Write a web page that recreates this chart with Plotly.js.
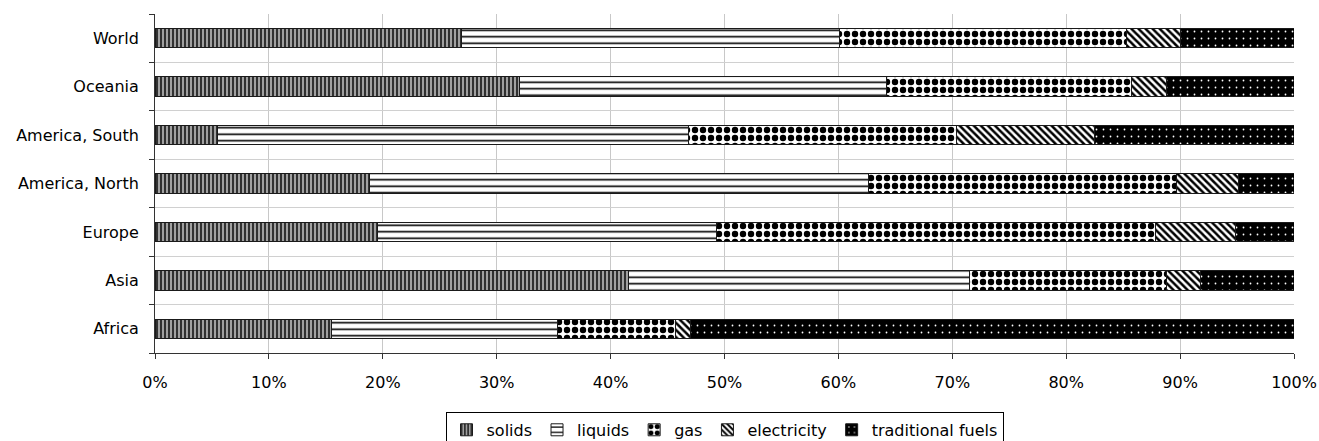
<!DOCTYPE html>
<html>
<head>
<meta charset="utf-8">
<script src="https://cdn.plot.ly/plotly-3.0.1.min.js"></script>
<style>
  html, body { margin: 0; padding: 0; background: #ffffff; }
  #chart { width: 1319px; height: 441px; }
</style>
</head>
<body>
<div id="chart"></div>
<script>
// Categories (bottom to top)
const regions = ["Africa", "Asia", "Europe", "America, North", "America, South", "Oceania", "World"];

// Shares in percent, same order as regions
const solids      = [15.5, 41.6, 19.5, 18.8,  5.5, 32.0, 26.9];
const liquids     = [19.8, 29.9, 29.8, 43.8, 41.3, 32.2, 33.2];
const gas         = [10.4, 17.3, 38.5, 27.1, 23.6, 21.5, 25.2];
const electricity = [ 1.3,  3.0,  7.1,  5.4, 12.1,  3.1,  4.7];
const traditional = [53.0,  8.2,  5.1,  4.9, 17.5, 11.2, 10.0];

const seriesNames = ["solids", "liquids", "gas", "electricity", "traditional fuels"];
const xTicks = [0, 10, 20, 30, 40, 50, 60, 70, 80, 90, 100];

const patterns = [
  {shape: "|", bgcolor: "#a0a0a0", fgcolor: "#000000", size: 4, solidity: 0.35},
  {shape: "-", bgcolor: "#ffffff", fgcolor: "#000000", size: 6.5, solidity: 0.25},
  {shape: ".", bgcolor: "#ffffff", fgcolor: "#000000", size: 8, solidity: 0.5},
  {shape: "\\", bgcolor: "#ffffff", fgcolor: "#000000", size: 5, solidity: 0.5},
  {shape: ".", bgcolor: "#000000", fgcolor: "#ffffff", size: 7, solidity: 0.05}
];

const values = [solids, liquids, gas, electricity, traditional];

const traces = values.map((v, i) => ({
  type: "bar",
  orientation: "h",
  name: seriesNames[i],
  y: regions,
  x: v,
  marker: {
    color: patterns[i].bgcolor,
    line: {color: "#1a1a1a", width: 1},
    pattern: {
      shape: patterns[i].shape,
      bgcolor: patterns[i].bgcolor,
      fgcolor: patterns[i].fgcolor,
      size: patterns[i].size,
      solidity: patterns[i].solidity,
      fillmode: "replace"
    }
  },
  hoverinfo: "name+x"
}));

const layout = {
  width: 1319,
  height: 441,
  margin: {l: 155, r: 25, t: 14, b: 88, autoexpand: false},
  paper_bgcolor: "#ffffff",
  plot_bgcolor: "#ffffff",
  barmode: "stack",
  bargap: 0.6,
  font: {family: "DejaVu Sans, sans-serif", size: 16, color: "#000000"},
  showlegend: true,
  legend: {
    orientation: "h",
    xref: "paper",
    x: 0.5, xanchor: "center",
    yref: "container",
    y: 0.066, yanchor: "top",
    bordercolor: "#000000", borderwidth: 1,
    bgcolor: "#ffffff",
    font: {size: 16},
    itemwidth: 30,
    traceorder: "normal",
    tracegroupgap: 0
  },
  xaxis: {
    range: [0, 100],
    tickvals: xTicks,
    ticktext: xTicks.map(t => t + "%"),
    ticks: "outside",
    ticklen: 5,
    tickcolor: "#333333",
    showline: true,
    linecolor: "#333333",
    linewidth: 1,
    showgrid: true,
    gridcolor: "#c8c8c8",
    gridwidth: 1,
    zeroline: false,
    ticklabelstandoff: 10,
    fixedrange: true
  },
  yaxis: {
    type: "category",
    categoryorder: "array",
    categoryarray: regions,
    range: [-0.5, 6.5],
    tickson: "boundaries",
    ticks: "outside",
    ticklen: 5,
    tickcolor: "#333333",
    showline: true,
    linecolor: "#333333",
    linewidth: 1,
    showgrid: true,
    gridcolor: "#d0d0d0",
    gridwidth: 1,
    zeroline: false,
    ticklabelstandoff: 12,
    fixedrange: true
  }
};

Plotly.newPlot("chart", traces, layout, {displayModeBar: false, staticPlot: true});
</script>
</body>
</html>
